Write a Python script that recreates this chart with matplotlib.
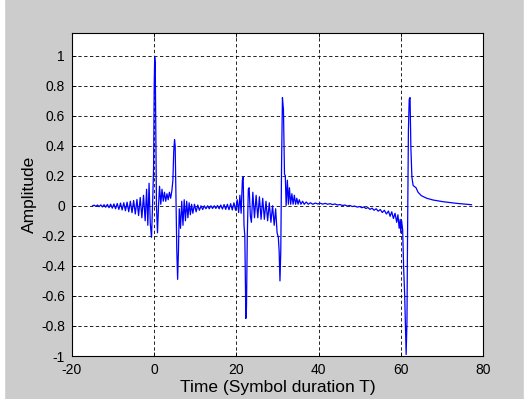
import numpy as np
import matplotlib
matplotlib.use('Agg')
import matplotlib.pyplot as plt
from matplotlib.patches import Rectangle
from matplotlib.ticker import FormatStrFormatter

plt.rcParams['font.family'] = ['Liberation Sans', 'DejaVu Sans']
plt.rcParams['axes.unicode_minus'] = False

# time axis (in symbol durations T) and amplitude
t = [-15.0, -14.6, -14.2, -13.8, -13.4, -13.0, -12.6, -12.2, -11.8, -11.4,
     -11.0, -10.6, -10.2, -9.8, -9.4, -9.0, -8.6, -8.2, -7.8, -7.4,
     -7.0, -6.6, -6.2, -5.8, -5.4, -5.0, -4.6, -4.2, -3.8, -3.4,
     -3.0, -2.6, -2.2, -1.85, -1.55, -1.25, -0.95, -0.65, -0.35, -0.15,
     0.0, 0.12, 0.25, 0.4, 0.55, 0.8, 1.05, 1.3, 1.6, 1.9,
     2.2, 2.5, 2.8, 3.1, 3.4, 3.7, 4.0, 4.3, 4.55, 4.75,
     4.95, 5.1, 5.3, 5.5, 5.7, 5.9, 6.1, 6.4, 6.7, 7.0,
     7.3, 7.6, 7.9, 8.2, 8.5, 8.8, 9.1, 9.4, 9.8, 10.2,
     10.6, 11.0, 11.4, 11.8, 12.2, 12.6, 13.0, 13.4, 13.8, 14.2,
     14.6, 15.0, 15.4, 15.8, 16.2, 16.6, 17.0, 17.4, 17.8, 18.2,
     18.6, 19.0, 19.4, 19.8, 20.2, 20.55, 20.85, 21.15, 21.45, 21.65,
     21.85, 22.05, 22.3, 22.45, 22.65, 22.9, 23.1, 23.4, 23.65, 24.0,
     24.4, 24.8, 25.2, 25.6, 26.0, 26.4, 26.8, 27.2, 27.6, 28.0,
     28.4, 28.8, 29.2, 29.55, 29.9, 30.2, 30.4, 30.6, 30.8, 31.0,
     31.2, 31.45, 31.7, 31.9, 32.1, 32.4, 32.65, 32.9, 33.2, 33.5,
     33.8, 34.1, 34.4, 34.7, 35.0, 35.3, 35.7, 36.1, 36.5, 37.0,
     37.5, 38.0, 38.6, 39.2, 39.8, 40.4, 41.0, 41.6, 42.2, 42.8,
     43.4, 44.0, 44.6, 45.2, 45.8, 46.4, 47.0, 47.6, 48.2, 48.8,
     49.4, 50.0, 50.5, 51.0, 51.5, 52.0, 52.5, 53.0, 53.5, 54.0,
     54.5, 55.0, 55.5, 56.0, 56.5, 57.0, 57.4, 57.8, 58.2, 58.6,
     59.0, 59.3, 59.6, 59.85, 60.0, 60.2, 60.45, 60.7, 60.95, 61.3,
     61.5, 61.65, 61.85, 62.05, 62.25, 62.45, 62.7, 63.0, 63.7, 64.2,
     65.0, 66.3, 67.9, 70.3, 73.6, 77.2]

amp = [0.0, 0.004, -0.004, 0.005, -0.006, 0.006, -0.008, 0.007, -0.01, 0.009,
       -0.013, 0.011, -0.016, 0.012, -0.02, 0.015, -0.024, 0.018, -0.028, 0.02,
       -0.033, 0.024, -0.04, 0.03, -0.046, 0.035, -0.055, 0.042, -0.065, 0.055,
       -0.08, 0.07, -0.1, 0.11, -0.13, 0.15, -0.12, -0.21, 0.05, 0.25,
       0.8, 0.99, 0.95, 0.5, 0.0, -0.18, 0.0, 0.13, 0.01, 0.11,
       0.03, 0.09, 0.03, 0.08, 0.04, 0.09, 0.05, 0.1, 0.17, 0.36,
       0.44, 0.4, 0.05, -0.3, -0.49, -0.3, -0.02, -0.15, 0.03, -0.13,
       0.04, -0.1, 0.03, -0.08, 0.02, -0.06, 0.01, -0.05, 0.01, -0.04,
       0.005, -0.03, 0.0, -0.025, 0.0, -0.02, 0.0, -0.02, 0.0, -0.018,
       0.0, -0.018, 0.002, -0.02, 0.005, -0.022, 0.008, -0.024, 0.01, -0.026,
       0.014, -0.028, 0.02, -0.03, 0.04, -0.045, 0.07, -0.05, 0.17, 0.19,
       -0.13, -0.2, -0.75, -0.68, -0.2, 0.11, 0.12, -0.07, -0.11, 0.09,
       -0.08, 0.07, -0.08, 0.06, -0.09, 0.05, -0.09, 0.03, -0.1, 0.02,
       -0.11, 0.0, -0.13, -0.02, -0.18, -0.21, -0.3, -0.5, -0.3, 0.3,
       0.72, 0.64, 0.21, 0.2, 0.0, 0.17, 0.01, 0.12, 0.01, 0.08,
       0.01, 0.07, 0.01, 0.05, 0.01, 0.04, 0.01, 0.03, 0.01, 0.025,
       0.01, 0.02, 0.01, 0.018, 0.012, 0.017, 0.011, 0.016, 0.01, 0.014,
       0.008, 0.012, 0.005, 0.008, 0.002, 0.005, -0.002, 0.002, -0.005, -0.002,
       -0.009, -0.005, -0.013, -0.008, -0.018, -0.012, -0.024, -0.016, -0.03, -0.02,
       -0.036, -0.025, -0.045, -0.03, -0.055, -0.035, -0.07, -0.04, -0.085, -0.05,
       -0.11, -0.06, -0.15, -0.09, -0.18, -0.1, -0.16, -0.42, -0.6, -0.99,
       -0.77, -0.17, 0.5, 0.71, 0.72, 0.39, 0.19, 0.135, 0.12, 0.09,
       0.067, 0.05, 0.038, 0.027, 0.016, 0.007]

xticks = [-20, 0, 20, 40, 60, 80]
yticks = [-1, -0.8, -0.6, -0.4, -0.2, 0, 0.2, 0.4, 0.6, 0.8, 1]

fig = plt.figure(figsize=(5.29, 3.99), dpi=100, facecolor='#cccccc')
# white strips at the screenshot edges
fig.patches.append(Rectangle((0, 0), 4 / 529, 1, transform=fig.transFigure,
                             color='white', zorder=-1))
fig.patches.append(Rectangle((524 / 529, 0), 5 / 529, 1, transform=fig.transFigure,
                             color='white', zorder=-1))

ax = fig.add_axes([72 / 529, 1 - 356 / 399, 411 / 529, 323 / 399])
ax.plot(t, amp, color='#0000ff', lw=0.9)

ax.set_xlim(-20, 80)
ax.set_ylim(-1, 1.15)
ax.set_xticks(xticks)
ax.set_yticks(yticks)
ax.yaxis.set_major_formatter(FormatStrFormatter('%g'))
ax.grid(True, color='k', linestyle=(0, (4, 3)), lw=0.6)
ax.tick_params(direction='in', top=True, right=True, length=3, width=0.6,
               labelsize=10, pad=5)
for s in ax.spines.values():
    s.set_linewidth(0.8)

ax.set_xlabel('Time (Symbol duration T)', fontsize=12.5, labelpad=2)
ax.set_ylabel('Amplitude', fontsize=12.5, labelpad=3)

fig.savefig('out.png', dpi=100, facecolor=fig.get_facecolor())
